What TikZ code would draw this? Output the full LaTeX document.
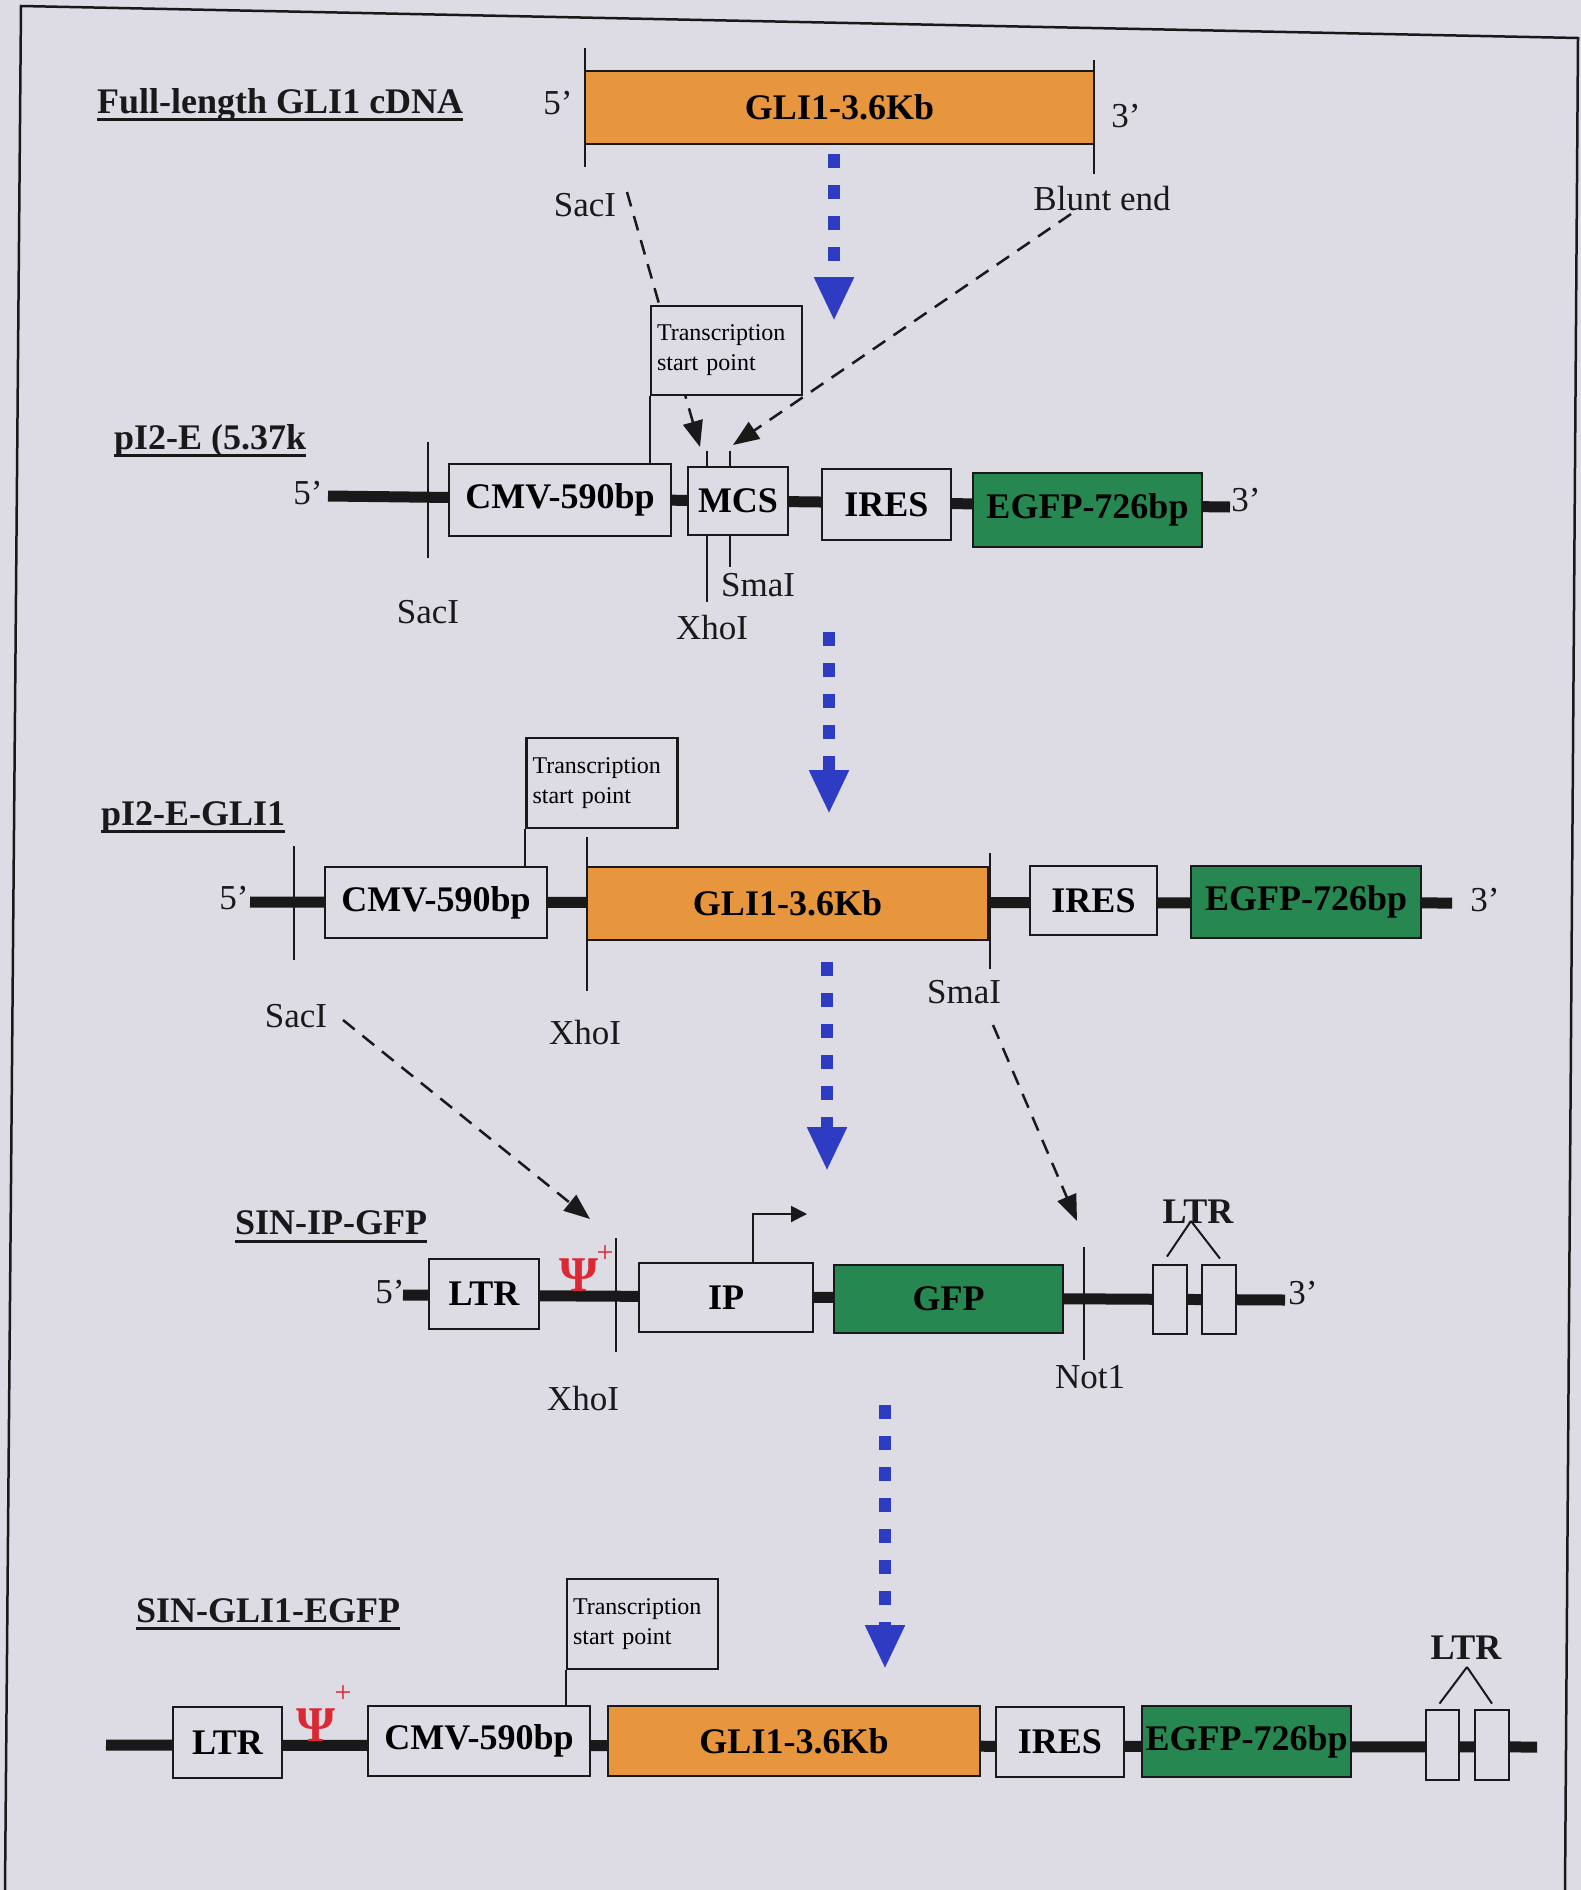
\documentclass[tikz,border=0pt]{standalone}
\usepackage{fontspec}
\setmainfont{Liberation Serif}
\usetikzlibrary{arrows.meta,calc}
\definecolor{paper}{RGB}{221,219,227}
\definecolor{ink}{RGB}{25,25,25}
\definecolor{gliorange}{RGB}{232,150,62}
\definecolor{gfpgreen}{RGB}{38,135,80}
\definecolor{flowblue}{RGB}{45,60,195}
\definecolor{psired}{RGB}{220,40,50}
\tikzset{
  seg/.style={draw=ink, line width=2.8pt, fill=paper, inner sep=0pt,
    font=\fontsize{36}{40}\selectfont\bfseries},
  tsbox/.style={draw=ink, line width=2.2pt, fill=paper, inner sep=6pt,
    align=left, text width=139pt, minimum width=151pt, minimum height=89pt,
    font=\fontsize{24}{30}\selectfont},
  lab/.style={inner sep=0pt, text=ink, font=\fontsize{35}{40}\selectfont},
  blab/.style={inner sep=0pt, text=ink, font=\fontsize{36}{40}\selectfont\bfseries},
  title/.style={anchor=base west, inner sep=0pt, text=ink,
    font=\fontsize{36}{40}\selectfont\bfseries},
  uline/.style={ink, line width=3pt},
  dna/.style={ink, line width=11pt},
  site/.style={ink, line width=2pt},
  conn/.style={ink, line width=2.5pt, dash pattern=on 15pt off 10pt,
    -{Triangle[length=26pt,width=20pt]}},
  flow/.style={flowblue, line width=12pt, dash pattern=on 14pt off 17pt,
    -{Triangle[length=44pt,width=37pt]}},
  prom/.style={ink, line width=2pt, -{Triangle[length=16pt,width=16pt]}},
  psi/.style={anchor=base, inner sep=0pt, text=psired,
    font=\fontsize{50}{52}\selectfont\bfseries},
  psiplus/.style={inner sep=0pt, text=psired, font=\fontsize{30}{32}\selectfont},
}
\begin{document}
\begin{tikzpicture}[x=1pt,y=-1pt]
\fill[paper] (0,0) rectangle (1581,1890);
\useasboundingbox (0,0) rectangle (1581,1890);
% page frame
\draw[ink, line width=2.5pt] (5,1890) -- (21,6) -- (1578,38) -- (1565,1890);

% ---------- full-length cDNA ----------
\node[title] (t1) at (97,113) {Full-length GLI1 cDNA};
\draw[uline] ($(t1.base west)+(0,6)$) -- ($(t1.base east)+(0,6)$);
\draw[site] (585,48) -- (585,167);
\draw[site] (1094,60) -- (1094,174);
\node[seg, fill=gliorange, minimum width=509pt, minimum height=73pt] (g1) at (839.5,107.5) {GLI1-3.6Kb};
\node[lab] (p1five) at (558,103) {5’};
\node[lab] (p1three) at (1126,116) {3’};
\node[lab] (sac1) at (585,205) {SacI};
\node[lab] (blunt) at (1102,199) {Blunt end};
\coordinate (sac1s) at (627,192);
\coordinate (xhotip) at (700,447);
\coordinate (blunts) at (1071,214);
\coordinate (smatip) at (733,445);
\coordinate (fa1) at (834,154);
\coordinate (fb1) at (834,321);
\draw[flow] (fa1) -- (fb1);

% ---------- pI2-E ----------
\node[title] (t2) at (114,449) {pI2-E (5.37k};
\draw[uline] ($(t2.base west)+(0,6)$) -- ($(t2.base east)+(0,6)$);
\draw[dna] (328,496) -- (1230,507);
\node[lab] (p2five) at (308,493) {5’};
\node[lab] (p2three) at (1246,500) {3’};
\draw[site] (428,442) -- (428,558);
\draw[conn] (sac1s) -- (xhotip);
\node[tsbox] (ts2) at (726.5,350.5) {Transcription\\start point};
\draw[conn] (blunts) -- (smatip);
\node[seg, minimum width=222pt, minimum height=72pt] (cmv2) at (560,500) {CMV-590bp};
\draw[site] (ts2.south west) -- (ts2.south west |- cmv2.north);
\draw[site] (707,451) -- (707,602);
\draw[site] (730,451) -- (730,567);
\node[seg, minimum width=100pt, minimum height=68pt] (mcs2) at (738,501) {MCS};
\node[seg, minimum width=129pt, minimum height=71pt] (ires2) at (886.5,504.5) {IRES};
\node[seg, fill=gfpgreen, minimum width=229pt, minimum height=74pt] (egfp2) at (1087.5,510) {EGFP-726bp};
\node[lab] (sac2) at (428,612) {SacI};
\node[lab] (sma2) at (758,585) {SmaI};
\node[lab] (xho2) at (712,628) {XhoI};
\coordinate (fa2) at (829,632);
\coordinate (fb2) at (829,814);
\draw[flow] (fa2) -- (fb2);

% ---------- pI2-E-GLI1 ----------
\node[title] (t3) at (101,825) {pI2-E-GLI1};
\draw[uline] ($(t3.base west)+(0,6)$) -- ($(t3.base east)+(0,6)$);
\draw[dna] (250,902) -- (1452,903);
\node[lab] (p3five) at (234,898) {5’};
\node[lab] (p3three) at (1485,900) {3’};
\draw[site] (294,846) -- (294,960);
\draw[site] (587,837) -- (587,991);
\draw[site] (990,853) -- (990,969);
\node[tsbox, minimum width=150pt, minimum height=90pt] (ts3) at (602,783) {Transcription\\start point};
\node[seg, minimum width=222pt, minimum height=71pt] (cmv3) at (436,902.5) {CMV-590bp};
\draw[site] (ts3.south west) -- (ts3.south west |- cmv3.north);
\node[seg, fill=gliorange, minimum width=401pt, minimum height=73pt] (g3) at (787.5,903.5) {GLI1-3.6Kb};
\node[seg, minimum width=127pt, minimum height=69pt] (ires3) at (1093.5,900.5) {IRES};
\node[seg, fill=gfpgreen, minimum width=230pt, minimum height=72pt] (egfp3) at (1306,902) {EGFP-726bp};
\node[lab] (sac3) at (296,1016) {SacI};
\node[lab] (xho3) at (585,1033) {XhoI};
\node[lab] (sma3) at (964,992) {SmaI};
\coordinate (sac3s) at (343,1020);
\coordinate (sac3t) at (590,1219);
\coordinate (sma3s) at (993,1025);
\coordinate (sma3t) at (1077,1221);
\draw[conn] (sac3s) -- (sac3t);
\draw[conn] (sma3s) -- (sma3t);
\coordinate (fa3) at (827,962);
\coordinate (fb3) at (827,1171);
\draw[flow] (fa3) -- (fb3);

% ---------- SIN-IP-GFP ----------
\node[title] (t4) at (235,1234) {SIN-IP-GFP};
\draw[uline] ($(t4.base west)+(0,7)$) -- ($(t4.base east)+(0,7)$);
\draw[dna] (403,1295) -- (1285,1300);
\node[lab] (p4five) at (390,1292) {5’};
\node[lab] (p4three) at (1303,1293) {3’};
\draw[site] (616,1238) -- (616,1352);
\draw[site] (1084,1247) -- (1084,1360);
\node[seg, minimum width=110pt, minimum height=70pt] (ltr4) at (484,1294) {LTR};
\node[psi] (psi4) at (579,1291) {Ψ};
\node[psiplus] (plus4) at (605,1254) {+};
\node[seg, minimum width=174pt, minimum height=69pt] (ip4) at (726,1297.5) {IP};
\draw[prom] ($(ip4.north west)+(115,0)$) |- (807,1214);
\node[seg, fill=gfpgreen, minimum width=229pt, minimum height=68pt] (gfp4) at (948.5,1299) {GFP};
\node[seg, minimum width=34pt, minimum height=69pt] (ltra4) at (1170,1299.5) {};
\node[seg, minimum width=34pt, minimum height=69pt] (ltrb4) at (1219,1299.5) {};
\node[blab] (ltrlab4) at (1198,1212) {LTR};
\coordinate (apex4) at (1191,1221);
\draw[site] (apex4) -- ($(ltra4.north)+(-3,-7)$);
\draw[site] (apex4) -- ($(ltrb4.north)+(1,-5)$);
\node[lab] (xho4) at (583,1399) {XhoI};
\node[lab] (not4) at (1090,1377) {Not1};
\coordinate (fa4) at (885,1405);
\coordinate (fb4) at (885,1669);
\draw[flow] (fa4) -- (fb4);

% ---------- SIN-GLI1-EGFP ----------
\node[title] (t5) at (136,1622) {SIN-GLI1-EGFP};
\draw[uline] ($(t5.base west)+(0,6)$) -- ($(t5.base east)+(0,6)$);
\draw[dna] (106,1745) -- (1537,1747);
\node[seg, minimum width=109pt, minimum height=71pt] (ltr5) at (227.5,1742.5) {LTR};
\node[psi] (psi5) at (316,1741) {Ψ};
\node[psiplus] (plus5) at (343,1694) {+};
\node[tsbox, minimum width=151pt, minimum height=90pt] (ts5) at (642.5,1624) {Transcription\\start point};
\node[seg, minimum width=222pt, minimum height=70pt] (cmv5) at (479,1741) {CMV-590bp};
\draw[site] (ts5.south west) -- (ts5.south west |- cmv5.north);
\node[seg, fill=gliorange, minimum width=372pt, minimum height=70pt] (g5) at (794,1741) {GLI1-3.6Kb};
\node[seg, minimum width=128pt, minimum height=70pt] (ires5) at (1060,1742) {IRES};
\node[seg, fill=gfpgreen, minimum width=209pt, minimum height=71pt] (egfp5) at (1246.5,1741.5) {EGFP-726bp};
\node[seg, minimum width=33pt, minimum height=70pt] (ltra5) at (1442.5,1745) {};
\node[seg, minimum width=34pt, minimum height=70pt] (ltrb5) at (1492,1745) {};
\node[blab] (ltrlab5) at (1466,1648) {LTR};
\coordinate (apex5) at (1467,1667);
\draw[site] (apex5) -- ($(ltra5.north)+(-3,-5)$);
\draw[site] (apex5) -- ($(ltrb5.north)+(0,-5)$);
\end{tikzpicture}
\end{document}
